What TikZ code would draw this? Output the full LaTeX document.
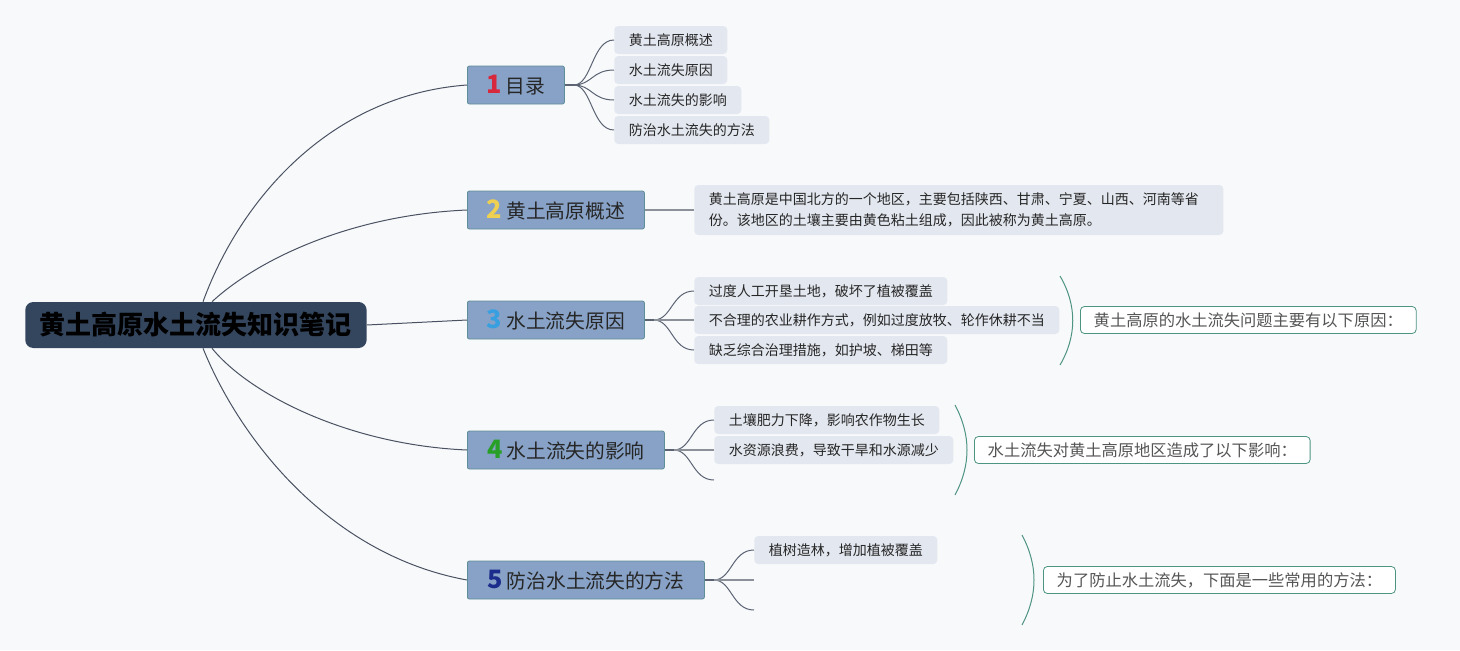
\documentclass[tikz,border=0pt]{standalone}
\usepackage{fontspec}
\setmainfont{Noto Sans CJK SC}
\usepackage{xcolor}
\usepackage{tikz}

\definecolor{bgc}{HTML}{F8F9FB}
\definecolor{rootc}{HTML}{34465E}
\definecolor{branchc}{HTML}{87A2C6}
\definecolor{branchb}{HTML}{5E8E96}
\definecolor{leafc}{HTML}{E3E7EF}
\definecolor{linec}{HTML}{4A5262}
\definecolor{subline}{HTML}{5C6474}
\definecolor{midline}{HTML}{8C9099}
\definecolor{bracec}{HTML}{4E9482}
\definecolor{sumtext}{HTML}{555555}
\definecolor{numa}{HTML}{D8283C}
\definecolor{numb}{HTML}{F0D050}
\definecolor{numc}{HTML}{38A0E0}
\definecolor{numd}{HTML}{28A028}
\definecolor{nume}{HTML}{1C2C8C}

\newcommand\bnum[2]{{\fontsize{19}{17}\selectfont\bfseries\textcolor{#1}{#2}}\hspace{3pt}}

\begin{document}
\begin{tikzpicture}
        [x=0.75pt,y=-0.75pt,every node/.style={inner sep=0pt,anchor=west},
         root/.style={fill=rootc,rounded corners=6pt,minimum height=34.5pt,inner xsep=11pt,
           font=\fontsize{19.5}{22}\selectfont\bfseries,text=black},
         branch/.style={fill=branchc,draw=branchb,line width=0.6pt,rounded corners=1.5pt,
           minimum height=28.5pt,font=\fontsize{14.8}{17}\selectfont,text=black!85},
         leaf/.style={fill=leafc,rounded corners=3pt,minimum height=21pt,inner xsep=10.9pt,
           font=\fontsize{10.5}{15.75}\selectfont,text=black!85},
         summary/.style={fill=white,draw=bracec,line width=0.6pt,rounded corners=3pt,
           minimum height=20.25pt,inner xsep=10pt,font=\fontsize{12.2}{14}\selectfont,text=sumtext},
         main/.style={draw=linec,line width=0.75pt},
         sub/.style={draw=subline,line width=0.75pt},
         mid/.style={draw=midline,line width=1.5pt},
         brace/.style={draw=bracec,line width=0.75pt}]
        \fill[bgc] (0,0) rectangle (1460,650);
        \useasboundingbox (0,0) rectangle (1460,650);

        % main topic and branches
        \node[root] (root) at (25,325) {黄土高原水土流失知识笔记};
        \node[branch,minimum width=72.75pt] (b1) at (467,85) {\bnum{numa}{1}目录};
        \node[branch,minimum width=132.75pt] (b2) at (467,210) {\bnum{numb}{2}黄土高原概述};
        \node[branch,minimum width=132.75pt] (b3) at (467,320) {\bnum{numc}{3}水土流失原因};
        \node[branch,minimum width=147.75pt] (b4) at (467,450) {\bnum{numd}{4}水土流失的影响};
        \node[branch,minimum width=177.75pt] (b5) at (467,580) {\bnum{nume}{5}防治水土流失的方法};

        % leaves
        \node[leaf] (l11) at (614,40) {黄土高原概述};
        \node[leaf] (l12) at (614,70) {水土流失原因};
        \node[leaf] (l13) at (614,100) {水土流失的影响};
        \node[leaf] (l14) at (614,130) {防治水土流失的方法};
        \node[leaf,align=left,text width=375pt,minimum height=37.5pt] (l21) at (694,210)
          {黄土高原是中国北方的一个地区，主要包括陕西、甘肃、宁夏、山西、河南等省\\份。该地区的土壤主要由黄色粘土组成，因此被称为黄土高原。};
        \node[leaf] (l31) at (694,291) {过度人工开垦土地，破坏了植被覆盖};
        \node[leaf] (l32) at (694,320) {不合理的农业耕作方式，例如过度放牧、轮作休耕不当};
        \node[leaf] (l33) at (694,350) {缺乏综合治理措施，如护坡、梯田等};
        \node[leaf] (l41) at (714,420) {土壤肥力下降，影响农作物生长};
        \node[leaf] (l42) at (714,450) {水资源浪费，导致干旱和水源减少};
        \coordinate (e43) at (714,480);
        \node[leaf] (l51) at (754,550) {植树造林，增加植被覆盖};
        \coordinate (e52) at (754,580); \coordinate (e53) at (754,610);

        % summaries
        \node[summary] (s3) at (1080,320) {黄土高原的水土流失问题主要有以下原因：};
        \node[summary] (s4) at (974,450) {水土流失对黄土高原地区造成了以下影响：};
        \node[summary] (s5) at (1043,580) {为了防止水土流失，下面是一些常用的方法：};

        % root connectors
        \path (root.north west) ++(178,0) coordinate (rt1) ++(9,0) coordinate (rt2);
        \path (root.south west) ++(178,0) coordinate (rb1) ++(9,0) coordinate (rb2);
        \draw[main] (rt1) .. controls (240,200) and (330,95) .. (b1.west);
        \draw[main] (rt2) .. controls (257,260) and (350,215) .. (b2.west);
        \draw[main] (root.east) -- (b3.west);
        \draw[main] (rb2) .. controls (250,395) and (350,445) .. (b4.west);
        \draw[main] (rb1) .. controls (240,440) and (330,555) .. (b5.west);

        % branch connectors
        \foreach \b in {b1,b3,b4,b5} \path (\b.east) ++(9,0) coordinate (h\b);
        \foreach \b in {b1,b3,b4,b5} \draw[sub,line width=1.5pt] (\b.east) -- (h\b);
        \foreach \b/\l in {b1/l11.west,b1/l12.west,b1/l13.west,b1/l14.west,b3/l31.west,b3/l33.west,
          b4/l41.west,b4/e43,b5/l51.west,b5/e53}
          \draw[sub] (h\b) .. controls +(18,0) and +(-22,0) .. (\l);
        \draw[mid] (b2.east) -- (l21.west);
        \draw[mid] (hb3) -- (l32.west);
        \draw[mid] (hb4) -- (l42.west);
        \draw[mid] (hb5) -- (e52);

        % braces
        \draw[brace] (1060,276) .. controls (1077,305) and (1077,336) .. (1060,365);
        \draw[brace] (955,405) .. controls (971,435) and (971,465) .. (955,495);
        \draw[brace] (1022,535) .. controls (1038,565) and (1038,595) .. (1022,625);
    \end{tikzpicture}
\end{document}
